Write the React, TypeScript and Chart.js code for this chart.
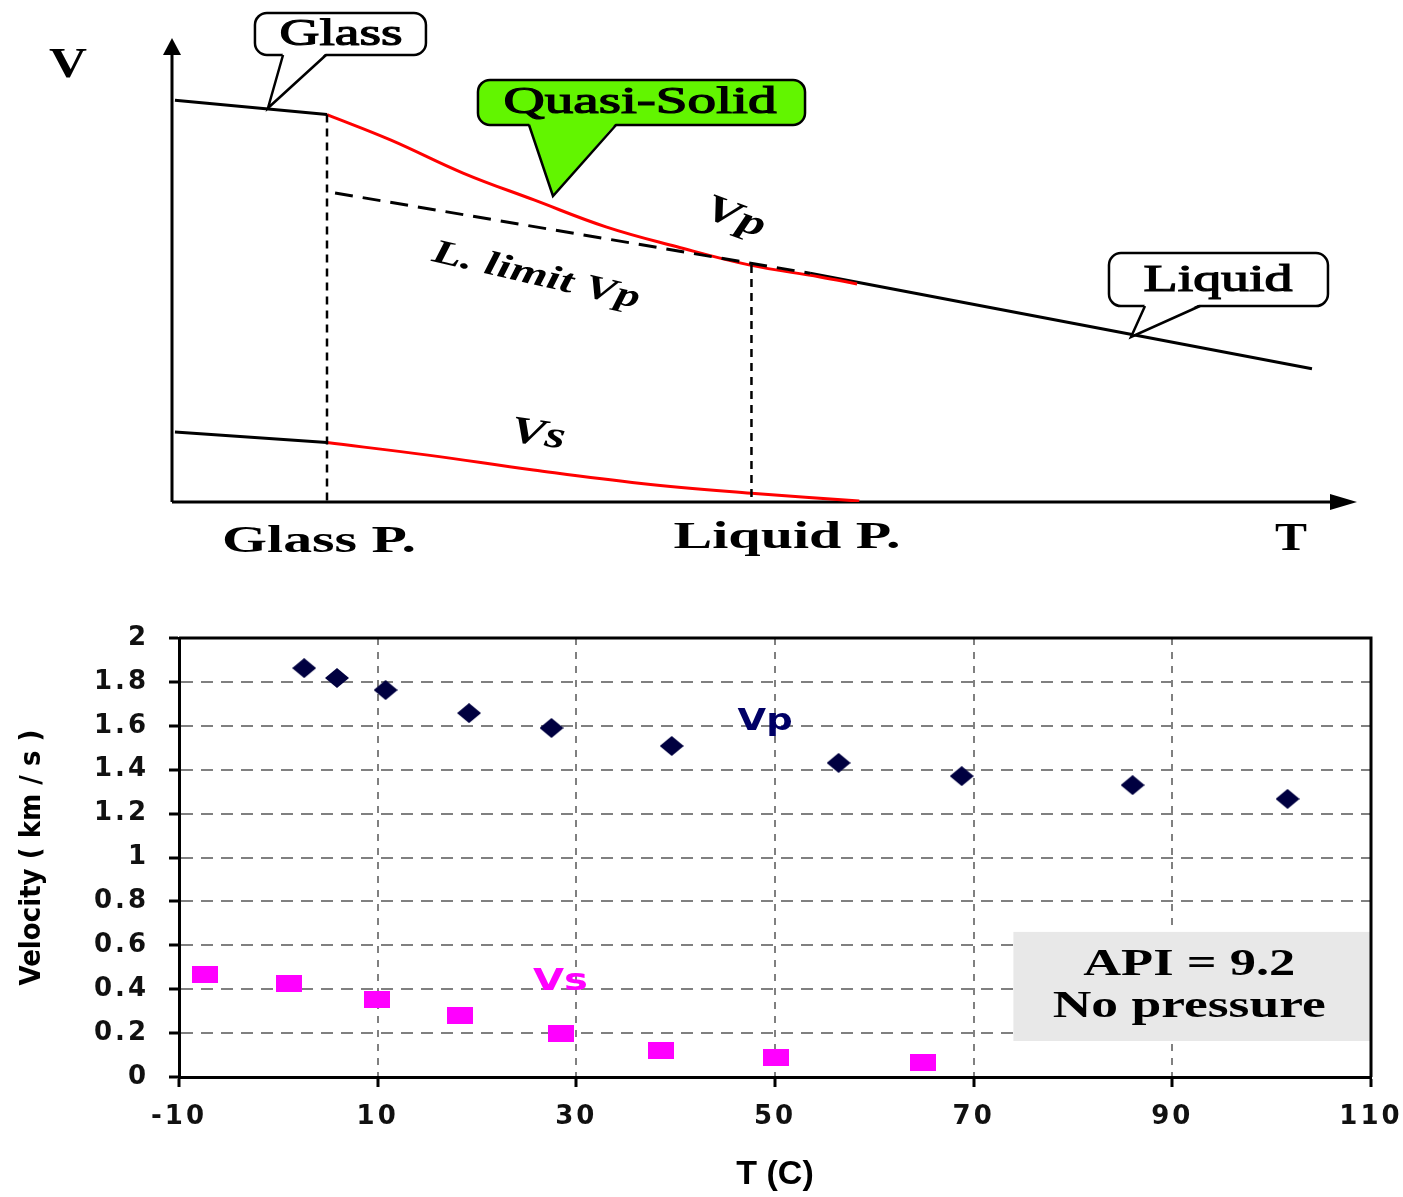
import React, { useEffect, useRef } from 'react';
import { Chart, registerables } from 'chart.js';

Chart.register(...registerables);

const W = 1403;
const TOP_H = 580;
const BOT_H = 617;

const serif = '"Liberation Serif", "DejaVu Serif", serif';
const sans = '"Liberation Sans", Arial, sans-serif';
const tickFamily = '"DejaVu Sans", "Liberation Sans", sans-serif';

// ---------- Top schematic (T vs V, arbitrary units 0..100) ----------
const glassVp = [[0.25, 86.6], [13.08, 83.5]];
const quasiVp = [[13.08, 83.5], [18.48, 78.0], [24.56, 70.9], [30.55, 65.1], [36.62, 59.3], [42.62, 55.0], [48.69, 51.1], [54.68, 48.5], [57.81, 47.0]];
const limitVp = [[13.76, 66.6], [53.84, 49.3]];
const liquidVp = [[53.84, 49.3], [96.2, 28.7]];
const glassVs = [[0.25, 15.1], [13.08, 12.8]];
const quasiVs = [[13.08, 12.8], [21.6, 10.1], [30.5, 6.9], [39.6, 4.0], [48.9, 1.9], [58.0, 0.2]];
const glassPoint = [[13.08, 83.5], [13.08, -1]];
const liquidPoint = [[48.9, 51.1], [48.9, -1]];

const callouts = [
  { text: 'Glass', box: [7.0, 21.43, 105.39, 96.34], base: [9.37, 13.0], tip: [8.1, 84.91], at: [14.26, 100.6], width: 123, fill: '#ffffff' },
  { text: 'Quasi-Solid', box: [25.82, 53.42, 90.95, 81.25], base: [30.13, 37.47], tip: [32.15, 65.95], at: [39.49, 85.99], width: 273, fill: '#62f500' },
  { text: 'Liquid', box: [79.07, 97.55, 53.66, 42.24], base: [82.11, 86.75], tip: [80.93, 35.56], at: [88.27, 47.63], width: 149, fill: '#ffffff' },
];

const schematicLabels = [
  { text: 'V', at: [-8.78, 94.0], width: 38, font: `bold 42px ${serif}`, angle: 0 },
  { text: 'Vp', at: [47.51, 61.21], width: 62, font: `italic bold 38px ${serif}`, angle: 20 },
  { text: 'L. limit Vp', at: [30.72, 48.71], width: 212, font: `italic bold 34px ${serif}`, angle: 13 },
  { text: 'Vs', at: [30.89, 14.44], width: 55, font: `italic bold 38px ${serif}`, angle: 8 },
  { text: 'Glass P.', at: [12.41, -8.62], width: 194, font: `bold 38px ${serif}`, angle: 0 },
  { text: 'Liquid P.', at: [51.9, -7.76], width: 227, font: `bold 38px ${serif}`, angle: 0 },
  { text: 'T', at: [94.43, -8.19], width: 32, font: `bold 40px ${serif}`, angle: 0 },
];

// ---------- Bottom chart data ----------
const xTickValues = [-10, 10, 30, 50, 70, 90, 110];
const yTickValues = [0, 0.2, 0.4, 0.6, 0.8, 1, 1.2, 1.4, 1.6, 1.8, 2];
const yTickLabels = ['0', '0.2', '0.4', '0.6', '0.8', '1', '1.2', '1.4', '1.6', '1.8', '2'];
const vpTemp = [2.6, 5.9, 10.8, 19.2, 27.5, 39.6, 56.4, 68.8, 86.0, 101.6];
const vpVel = [1.863, 1.818, 1.763, 1.658, 1.59, 1.508, 1.431, 1.371, 1.33, 1.267];
const vsTemp = [-7.4, 1.1, 9.9, 18.3, 28.5, 38.5, 50.1, 64.9];
const vsVel = [0.469, 0.427, 0.351, 0.278, 0.2, 0.123, 0.087, 0.064];

const infoBox = { x: [74.0, 110], y: [0.661, 0.164] };
const infoLines = [
  { text: 'API = 9.2', at: [91.7, 0.51], width: 212 },
  { text: 'No pressure', at: [91.7, 0.319], width: 273 },
];
const seriesLabels = [
  { text: 'Vp', at: [49.0, 1.617], width: 55, color: '#000066' },
  { text: 'Vs', at: [28.4, 0.433], width: 55, color: '#ff00ff' },
];

function toXY(arr: number[][]) {
  return arr.map(([x, y]) => ({ x, y }));
}

function stretchText(ctx: CanvasRenderingContext2D, text: string, x: number, y: number, font: string, width: number, color: string, angle = 0, stroke = 0) {
  ctx.save();
  ctx.font = font;
  (ctx as any).letterSpacing = '0px';
  const w = ctx.measureText(text).width || 1;
  ctx.translate(x, y);
  if (angle) ctx.rotate((angle * Math.PI) / 180);
  ctx.scale(width / w, 1);
  ctx.textAlign = 'center';
  ctx.textBaseline = 'middle';
  ctx.fillStyle = color;
  ctx.fillText(text, 0, 0);
  if (stroke) {
    ctx.lineWidth = stroke;
    ctx.strokeStyle = color;
    ctx.strokeText(text, 0, 0);
  }
  ctx.restore();
}

function makeDiamond() {
  const c = document.createElement('canvas');
  c.width = 24;
  c.height = 20;
  const g = c.getContext('2d')!;
  g.fillStyle = '#000040';
  g.beginPath();
  g.moveTo(12, 0);
  g.lineTo(24, 10);
  g.lineTo(12, 20);
  g.lineTo(0, 10);
  g.closePath();
  g.fill();
  return c;
}

function makeSquare() {
  const c = document.createElement('canvas');
  c.width = 26;
  c.height = 17;
  const g = c.getContext('2d')!;
  g.fillStyle = '#ff00ff';
  g.fillRect(0, 0, 26, 17);
  return c;
}

const spacingPlugin = {
  id: 'tickSpacing',
  beforeDraw(chart: any) {
    for (const s of Object.values(chart.scales) as any[]) {
      if (s._spaced) continue;
      const orig = s.drawLabels.bind(s);
      s.drawLabels = (area: any) => {
        const c = s.ctx;
        const prev = c.letterSpacing;
        c.letterSpacing = '3px';
        orig(area);
        c.letterSpacing = prev;
      };
      s._spaced = true;
    }
  },
};

export default function App() {
  const topRef = useRef<HTMLCanvasElement>(null);
  const botRef = useRef<HTMLCanvasElement>(null);

  useEffect(() => {
    const lineDs = (label: string, pts: number[][], color: string, width: number, dash: number[] = [], tension = 0, order = 5) => ({
      label,
      data: toXY(pts),
      showLine: true,
      borderColor: color,
      backgroundColor: color,
      borderWidth: width,
      borderDash: dash,
      pointRadius: 0,
      tension,
      order,
    });

    const schematicPlugin = {
      id: 'schematic',
      beforeDatasetsDraw(chart: any) {
        const { ctx, chartArea: a } = chart;
        ctx.save();
        ctx.strokeStyle = '#000';
        ctx.fillStyle = '#000';
        ctx.lineWidth = 3;
        ctx.beginPath();
        ctx.moveTo(a.left, a.bottom);
        ctx.lineTo(a.left, a.top + 12);
        ctx.moveTo(a.left, a.bottom);
        ctx.lineTo(a.right - 12, a.bottom);
        ctx.stroke();
        ctx.beginPath();
        ctx.moveTo(a.left, a.top);
        ctx.lineTo(a.left - 9, a.top + 17);
        ctx.lineTo(a.left + 9, a.top + 17);
        ctx.closePath();
        ctx.fill();
        ctx.beginPath();
        ctx.moveTo(a.right, a.bottom);
        ctx.lineTo(a.right - 27, a.bottom - 8);
        ctx.lineTo(a.right - 27, a.bottom + 8);
        ctx.closePath();
        ctx.fill();
        ctx.restore();
      },
      afterDatasetsDraw(chart: any) {
        const { ctx } = chart;
        const xs = (v: number) => chart.scales.x.getPixelForValue(v);
        const ys = (v: number) => chart.scales.y.getPixelForValue(v);
        for (const c of callouts) {
          const l = xs(c.box[0]);
          const r = xs(c.box[1]);
          const t = ys(c.box[2]);
          const b = ys(c.box[3]);
          ctx.save();
          ctx.lineWidth = 2.5;
          ctx.strokeStyle = '#000';
          ctx.fillStyle = c.fill;
          ctx.beginPath();
          ctx.roundRect(l, t, r - l, b - t, 12);
          ctx.fill();
          ctx.stroke();
          const b1 = xs(c.base[0]);
          const b2 = xs(c.base[1]);
          const tx = xs(c.tip[0]);
          const ty = ys(c.tip[1]);
          ctx.beginPath();
          ctx.moveTo(b1, b - 2);
          ctx.lineTo(tx, ty);
          ctx.lineTo(b2, b - 2);
          ctx.closePath();
          ctx.fill();
          ctx.beginPath();
          ctx.moveTo(b1, b);
          ctx.lineTo(tx, ty);
          ctx.lineTo(b2, b);
          ctx.stroke();
          ctx.restore();
          stretchText(ctx, c.text, xs(c.at[0]), ys(c.at[1]), `38px ${serif}`, c.width, '#000', 0, 1.2);
        }
        for (const lb of schematicLabels) {
          stretchText(ctx, lb.text, xs(lb.at[0]), ys(lb.at[1]), lb.font, lb.width, '#000', lb.angle);
        }
      },
    };

    const top = new Chart(topRef.current!, {
      type: 'scatter',
      data: {
        datasets: [
          lineDs('L. limit Vp', limitVp, '#000', 3, [18, 10], 0, 1),
          lineDs('Glass P.', glassPoint, '#000', 2.5, [8, 6], 0, 2),
          lineDs('Liquid P.', liquidPoint, '#000', 2.5, [8, 6], 0, 2),
          lineDs('Quasi-solid Vp', quasiVp, '#ff0000', 3, [], 0.4, 3),
          lineDs('Quasi-solid Vs', quasiVs, '#ff0000', 3, [], 0.4, 3),
          lineDs('Glass Vp', glassVp, '#000', 3, [], 0, 4),
          lineDs('Glass Vs', glassVs, '#000', 3, [], 0, 4),
          lineDs('Liquid Vp', liquidVp, '#000', 3, [], 0, 4),
        ] as any,
      },
      options: {
        responsive: false,
        maintainAspectRatio: false,
        devicePixelRatio: 1,
        animation: false,
        events: [],
        layout: { padding: { left: 172, right: 46, top: 38, bottom: 78 } },
        scales: {
          x: { type: 'linear', min: 0, max: 100, display: false },
          y: { type: 'linear', min: 0, max: 100, display: false },
        },
        plugins: { legend: { display: false }, tooltip: { enabled: false } },
      },
      plugins: [schematicPlugin],
    } as any);

    const diamond = makeDiamond();
    const square = makeSquare();

    const framePlugin = {
      id: 'frame',
      beforeDatasetsDraw(chart: any) {
        const { ctx } = chart;
        const xs = (v: number) => chart.scales.x.getPixelForValue(v);
        const ys = (v: number) => chart.scales.y.getPixelForValue(v);
        ctx.save();
        ctx.fillStyle = '#e8e8e8';
        const l = xs(infoBox.x[0]);
        const r = xs(infoBox.x[1]);
        const t = ys(infoBox.y[0]);
        const b = ys(infoBox.y[1]);
        ctx.fillRect(l, t, r - l, b - t);
        ctx.restore();
      },
      afterDatasetsDraw(chart: any) {
        const { ctx, chartArea: a } = chart;
        const xs = (v: number) => chart.scales.x.getPixelForValue(v);
        const ys = (v: number) => chart.scales.y.getPixelForValue(v);
        ctx.save();
        ctx.strokeStyle = '#000';
        ctx.lineWidth = 3;
        ctx.beginPath();
        ctx.moveTo(a.left, a.top);
        ctx.lineTo(a.right, a.top);
        ctx.lineTo(a.right, a.bottom);
        ctx.stroke();
        ctx.restore();
        for (const ln of infoLines) {
          stretchText(ctx, ln.text, xs(ln.at[0]), ys(ln.at[1]), `bold 38px ${serif}`, ln.width, '#000');
        }
        for (const lb of seriesLabels) {
          stretchText(ctx, lb.text, xs(lb.at[0]), ys(lb.at[1]), `bold 30px ${tickFamily}`, lb.width, lb.color);
        }
      },
    };

    const tickFont = { family: tickFamily, weight: 'bold', size: 26 };

    const bot = new Chart(botRef.current!, {
      type: 'scatter',
      data: {
        datasets: [
          {
            label: 'Vp',
            data: vpTemp.map((t, i) => ({ x: t, y: vpVel[i] })),
            pointStyle: diamond,
            pointRadius: 12,
            backgroundColor: '#000040',
            borderColor: '#000040',
          },
          {
            label: 'Vs',
            data: vsTemp.map((t, i) => ({ x: t, y: vsVel[i] })),
            pointStyle: square,
            pointRadius: 12,
            backgroundColor: '#ff00ff',
            borderColor: '#ff00ff',
          },
        ],
      },
      options: {
        responsive: false,
        maintainAspectRatio: false,
        devicePixelRatio: 1,
        animation: false,
        events: [],
        layout: { padding: { left: 0, right: 32, top: 58, bottom: 0 } },
        scales: {
          x: {
            type: 'linear',
            min: -10,
            max: 110,
            afterBuildTicks: (s: any) => {
              s.ticks = xTickValues.map((v) => ({ value: v }));
            },
            afterFit: (s: any) => {
              s.height = 120;
              s.paddingLeft = 0;
              s.paddingRight = 0;
            },
            ticks: {
              callback: (v: any) => String(v),
              font: tickFont,
              color: '#111',
              padding: 15,
              maxRotation: 0,
              autoSkip: false,
            },
            grid: { color: '#808080', lineWidth: 2, tickColor: '#000', tickWidth: 3, tickLength: 10, tickBorderDash: [] },
            border: { display: true, color: '#000', width: 3, dash: [7, 7] },
            title: { display: true, text: 'T (C)', color: '#000', font: { family: sans, weight: 'bold', size: 34 }, padding: { top: 0, bottom: 2 } },
          },
          y: {
            type: 'linear',
            min: 0,
            max: 2,
            afterBuildTicks: (s: any) => {
              s.ticks = yTickValues.map((v) => ({ value: v }));
            },
            afterFit: (s: any) => {
              s.width = 179;
              s.paddingTop = 0;
              s.paddingBottom = 0;
            },
            ticks: {
              callback: (_v: any, i: number) => yTickLabels[i],
              font: tickFont,
              color: '#111',
              padding: 20,
              autoSkip: false,
            },
            grid: { color: '#808080', lineWidth: 2, tickColor: '#000', tickWidth: 3, tickLength: 10, tickBorderDash: [] },
            border: { display: true, color: '#000', width: 3, dash: [12, 8] },
            title: { display: true, text: 'Velocity ( km / s )', color: '#000', font: { family: '"Liberation Sans Narrow", "DejaVu Sans Condensed", "Liberation Sans", sans-serif', weight: 'bold', size: 29 }, padding: { top: 15, bottom: 0 } },
          },
        },
        plugins: { legend: { display: false }, tooltip: { enabled: false } },
      },
      plugins: [spacingPlugin, framePlugin],
    } as any);

    return () => {
      top.destroy();
      bot.destroy();
    };
  }, []);

  return (
    <div style={{ position: 'absolute', left: 0, top: 0, width: W, height: TOP_H + BOT_H, background: '#fff' }}>
      <canvas ref={topRef} width={W} height={TOP_H} style={{ position: 'absolute', left: 0, top: 0, width: W, height: TOP_H }} />
      <canvas ref={botRef} width={W} height={BOT_H} style={{ position: 'absolute', left: 0, top: TOP_H, width: W, height: BOT_H }} />
    </div>
  );
}
